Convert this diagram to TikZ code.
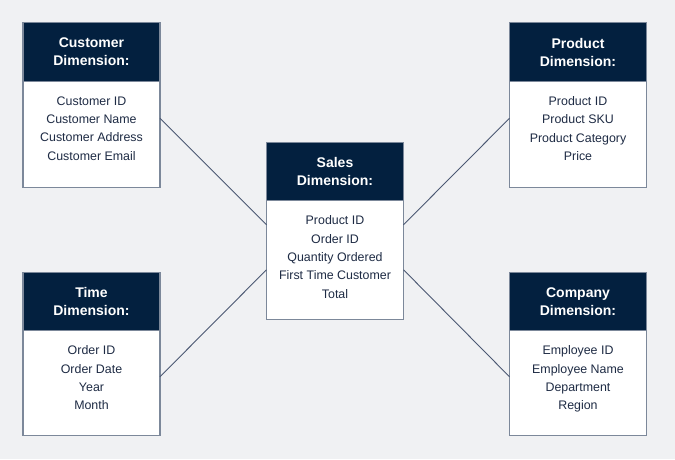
\documentclass[tikz,border=0pt]{standalone}
\usepackage{fontspec}
\setmainfont{Liberation Sans}
\usetikzlibrary{positioning}
\definecolor{navy}{HTML}{03203F}
\definecolor{ink}{HTML}{1E2B44}
\definecolor{rim}{HTML}{7C889A}
\definecolor{paper}{HTML}{F0F1F3}
\definecolor{wire}{HTML}{4B5872}
\tikzstyle{head} = [rectangle, fill=navy, draw=rim, line width=1.2pt, minimum width=137pt, minimum height=58.5pt,
inner sep=0pt, outer sep=0pt, text=white, align=center, font=\fontsize{14}{18}\selectfont\bfseries]
\tikzstyle{body} = [rectangle, fill=white, draw=rim, line width=1.2pt, minimum width=137pt, inner sep=0pt, outer sep=0pt]
\tikzstyle{items} = [align=center, text=ink, inner sep=0pt, anchor=north, font=\fontsize{12.4}{18.3}\selectfont]
\tikzstyle{link} = [draw=wire, line width=0.9pt]

\begin{document}
\begin{tikzpicture}[x=1pt,y=-1pt]
                        \fill[paper] (0,0) rectangle (675,459);
                        \useasboundingbox (0,0) rectangle (675,459);
                        % customer
                        \node[head] (chead) at (91.5,52) {Customer\\Dimension:};
                        \node[body,minimum height=106pt,below=0pt of chead] (cbody) {};
                        \node[items] (clist) at ([yshift=-15pt]cbody.north)
                            {Customer ID\\Customer Name\\Customer Address\\Customer Email};
                        % time
                        \node[head] (thead) at (91.5,301.5) {Time\\Dimension:};
                        \node[body,minimum height=105pt,below=0pt of thead] (tbody) {};
                        \node[items] (tlist) at ([yshift=-15pt]tbody.north)
                            {Order ID\\Order Date\\Year\\Month};
                        % sales
                        \node[head] (shead) at (335,171.5) {Sales\\Dimension:};
                        \node[body,minimum height=119pt,below=0pt of shead] (sbody) {};
                        \node[items] (slist) at ([yshift=-15pt]sbody.north)
                            {Product ID\\Order ID\\Quantity Ordered\\First Time Customer\\Total};
                        % product
                        \node[head] (phead) at (578,52) {Product\\Dimension:};
                        \node[body,minimum height=106pt,below=0pt of phead] (pbody) {};
                        \node[items] (plist) at ([yshift=-15pt]pbody.north)
                            {Product ID\\Product SKU\\Product Category\\Price};
                        % company
                        \node[head] (khead) at (578,301.5) {Company\\Dimension:};
                        \node[body,minimum height=105pt,below=0pt of khead] (kbody) {};
                        \node[items] (klist) at ([yshift=-15pt]kbody.north)
                            {Employee ID\\Employee Name\\Department\\Region};
                        % links
                        \draw[link] ([yshift=-37pt]cbody.north east) -- ([yshift=-24pt]sbody.north west);
                        \draw[link] ([yshift=-46pt]tbody.north east) -- ([yshift=-69pt]sbody.north west);
                        \draw[link] ([yshift=-24pt]sbody.north east) -- ([yshift=-37pt]pbody.north west);
                        \draw[link] ([yshift=-69pt]sbody.north east) -- ([yshift=-46pt]kbody.north west);
                    \end{tikzpicture}
\end{document}
